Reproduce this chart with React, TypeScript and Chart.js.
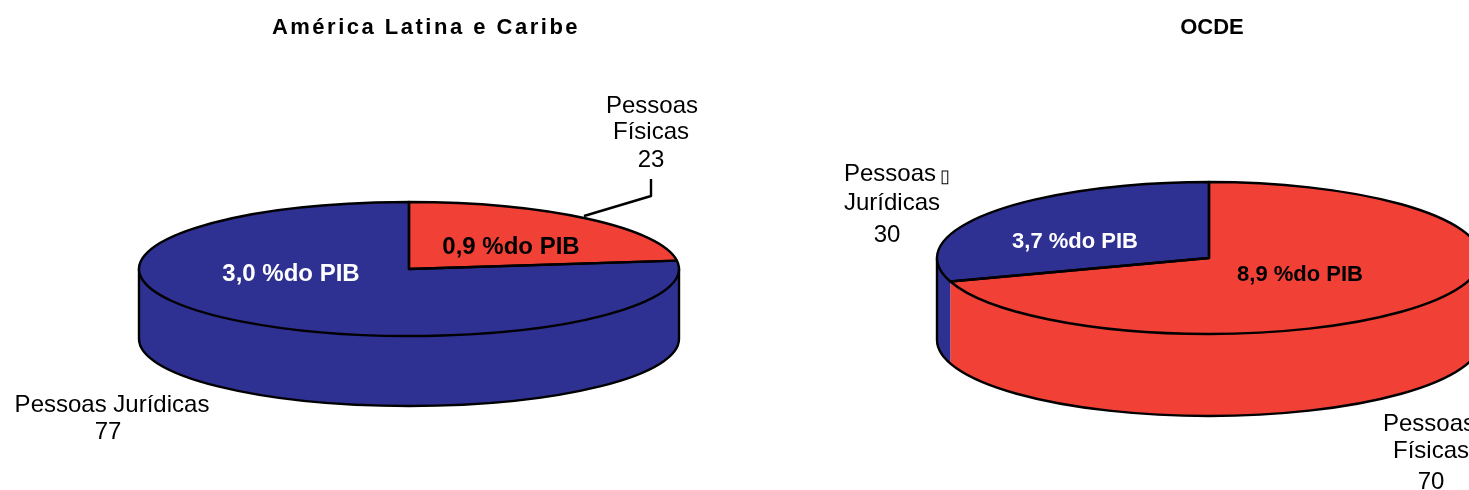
import React, { useEffect, useRef } from "react";
import { Chart, registerables } from "chart.js";

Chart.register(...registerables);

const BLUE = "#2E3192";
const RED = "#F14136";
const FONT = '"Liberation Sans", Arial, sans-serif';

const latamCategories = ["Pessoas Físicas", "Pessoas Jurídicas"];
const latamShares = [23, 77];
const latamColors = [RED, BLUE];

const ocdeCategories = ["Pessoas Físicas", "Pessoas Jurídicas"];
const ocdeShares = [70, 30];
const ocdeColors = [RED, BLUE];

type T = { s: string; x: number; y: number; font: string; color?: string; align?: CanvasTextAlign; ls?: string };

const normal = `24px ${FONT}`;
const bold24 = `bold 24px ${FONT}`;
const bold22 = `bold 22px ${FONT}`;

const latamTexts: T[] = [
  { s: "América Latina e Caribe", x: 426, y: 34, font: bold22, ls: "2.5px" },
  { s: "Pessoas", x: 652, y: 113, font: normal },
  { s: "Físicas", x: 651, y: 139, font: normal },
  { s: "23", x: 651, y: 167, font: normal },
  { s: "Pessoas Jurídicas", x: 112, y: 412, font: normal },
  { s: "77", x: 108, y: 439, font: normal },
  { s: "3,0 %do PIB", x: 291, y: 281, font: bold24, color: "#FFFFFF" },
  { s: "0,9 %do PIB", x: 511, y: 254, font: bold24, color: "#000000" },
];

const ocdeTexts: T[] = [
  { s: "OCDE", x: 477, y: 34, font: bold22 },
  { s: "Pessoas", x: 109, y: 181, font: normal, align: "left" },
  { s: "\u25AF", x: 205, y: 182, font: `18px ${FONT}`, align: "left" },
  { s: "Jurídicas", x: 109, y: 210, font: normal, align: "left" },
  { s: "30", x: 152, y: 242, font: normal },
  { s: "3,7 %do PIB", x: 340, y: 248, font: bold22, color: "#FFFFFF" },
  { s: "8,9 %do PIB", x: 565, y: 281, font: bold22, color: "#000000" },
  { s: "Pessoas", x: 694, y: 431, font: normal },
  { s: "Físicas", x: 696, y: 458, font: normal },
  { s: "70", x: 696, y: 489, font: normal },
];

const latamLeader = [[584, 216], [651, 196], [651, 179]];

function pie3d(opts: { cx: number; cy: number; rx: number; ry: number; depth: number; texts: T[]; leader?: number[][] }) {
  const { cx, cy, rx, ry, depth, texts, leader } = opts;
  return {
    id: "pie3d",
    beforeDatasetsDraw(chart: any) {
      const ctx = chart.ctx;
      const arcs = chart.getDatasetMeta(0).data;
      const colors = chart.data.datasets[0].backgroundColor;
      ctx.save();
      arcs.forEach((a: any, i: number) => {
        const from = Math.max(a.startAngle, 0);
        const to = Math.min(a.endAngle, Math.PI);
        if (to <= from) return;
        ctx.beginPath();
        ctx.ellipse(cx, cy, rx, ry, 0, from, to);
        ctx.ellipse(cx, cy + depth, rx, ry, 0, to, from, true);
        ctx.closePath();
        ctx.fillStyle = colors[i];
        ctx.fill();
      });
      ctx.beginPath();
      ctx.moveTo(cx + rx, cy);
      ctx.lineTo(cx + rx, cy + depth);
      ctx.ellipse(cx, cy + depth, rx, ry, 0, 0, Math.PI);
      ctx.lineTo(cx - rx, cy);
      ctx.strokeStyle = "#000";
      ctx.lineWidth = 2.4;
      ctx.stroke();
      ctx.restore();
      const el = arcs[0];
      ctx.save();
      ctx.translate(cx, cy);
      ctx.scale(1, ry / rx);
      ctx.translate(-el.x, -el.y);
    },
    afterDatasetsDraw(chart: any) {
      const ctx = chart.ctx;
      ctx.restore();
      const arcs = chart.getDatasetMeta(0).data;
      ctx.save();
      ctx.strokeStyle = "#000";
      ctx.lineWidth = 2.4;
      ctx.lineJoin = "round";
      arcs.forEach((a: any) => {
        ctx.beginPath();
        ctx.moveTo(cx, cy);
        ctx.ellipse(cx, cy, rx, ry, 0, a.startAngle, a.endAngle);
        ctx.closePath();
        ctx.stroke();
      });
      if (leader) {
        ctx.beginPath();
        leader.forEach(([x, y], i) => (i ? ctx.lineTo(x, y) : ctx.moveTo(x, y)));
        ctx.stroke();
      }
      ctx.restore();
    },
    afterDraw(chart: any) {
      const ctx = chart.ctx;
      ctx.save();
      ctx.textBaseline = "alphabetic";
      texts.forEach((t) => {
        ctx.font = t.font;
        ctx.fillStyle = t.color ?? "#000000";
        ctx.textAlign = t.align ?? "center";
        (ctx as any).letterSpacing = t.ls ?? "0px";
        ctx.fillText(t.s, t.x, t.y);
      });
      ctx.restore();
    },
  };
}

function PieChart(props: { left: number; width: number; labels: string[]; data: number[]; colors: string[]; radius: number; plugin: any }) {
  const ref = useRef<HTMLCanvasElement>(null);
  useEffect(() => {
    const chart = new Chart(ref.current!, {
      type: "pie",
      data: {
        labels: props.labels,
        datasets: [{ data: props.data, backgroundColor: props.colors, borderWidth: 0, radius: props.radius, clip: false } as any],
      },
      options: {
        animation: false,
        responsive: false,
        events: [],
        plugins: { legend: { display: false }, tooltip: { enabled: false }, title: { display: false } },
      },
      plugins: [props.plugin],
    });
    return () => chart.destroy();
  }, []);
  return (
    <canvas
      ref={ref}
      width={props.width}
      height={490}
      style={{ position: "absolute", left: props.left, top: 0, width: props.width, height: 490 }}
    />
  );
}

export default function App() {
  return (
    <div style={{ position: "fixed", left: 0, top: 0, width: 1469, height: 490, overflow: "hidden", background: "#fff" }}>
      <PieChart
        left={0}
        width={735}
        labels={latamCategories}
        data={latamShares}
        colors={latamColors}
        radius={270}
        plugin={pie3d({ cx: 409, cy: 269, rx: 270, ry: 67, depth: 70, texts: latamTexts, leader: latamLeader })}
      />
      <PieChart
        left={735}
        width={734}
        labels={ocdeCategories}
        data={ocdeShares}
        colors={ocdeColors}
        radius={272}
        plugin={pie3d({ cx: 474, cy: 258, rx: 272, ry: 76, depth: 82, texts: ocdeTexts })}
      />
    </div>
  );
}
